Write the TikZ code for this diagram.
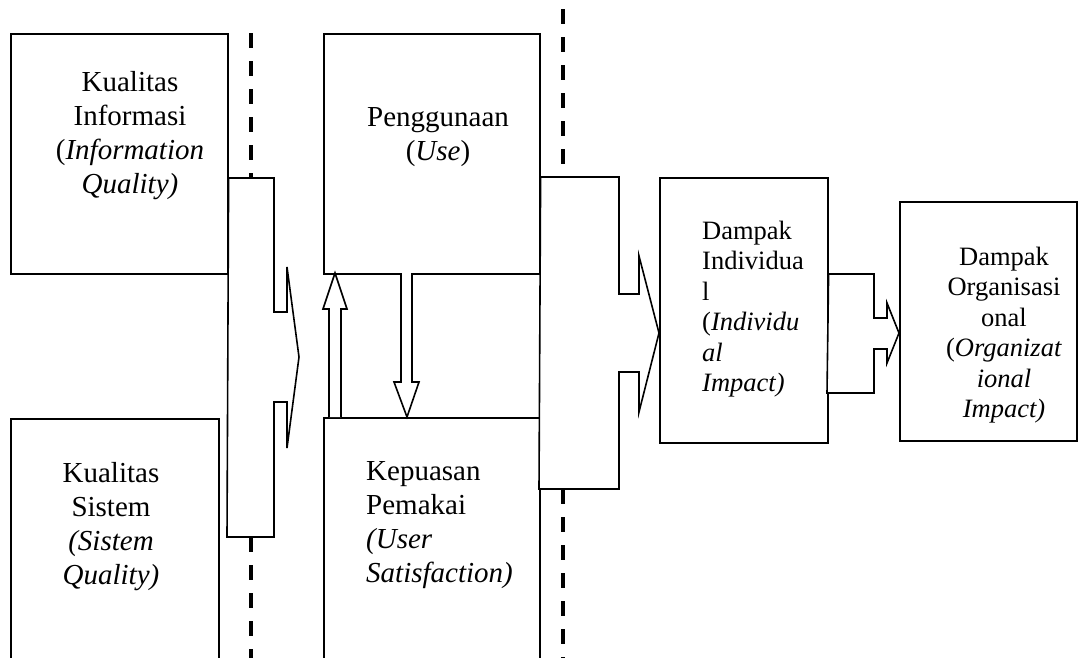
\documentclass[tikz,border=0pt]{standalone}
\usepackage{fontspec}
\setmainfont{Liberation Serif}
\tikzset{
  box/.style={draw, line width=1.6pt, anchor=north west, inner sep=0pt},
  blockarrow/.style={draw, line width=1.6pt, line join=miter, fill=white},
  hollow/.style={draw, line width=1.6pt, fill=white},
  divider/.style={line width=3.6pt, dash pattern=on 15pt off 13pt},
  bigtxt/.style={font=\fontsize{29}{34}\selectfont, inner sep=0pt},
  smalltxt/.style={font=\fontsize{26.5}{30.5}\selectfont, inner sep=0pt}
}
\begin{document}
\begin{tikzpicture}[x=1pt,y=-1pt]
\useasboundingbox (0,0) rectangle (1084,657);
\clip (0,0) rectangle (1084,657);
\fill[white] (0,0) rectangle (1084,657);
% dividers
\coordinate (d1a) at (251,33); \coordinate (d1b) at (251,177);
\coordinate (d1c) at (251,537); \coordinate (d1d) at (251,670);
\coordinate (d2a) at (563,9);  \coordinate (d2b) at (563,170);
\coordinate (d2c) at (563,489); \coordinate (d2d) at (563,670);
\draw[divider] (d1a) -- (d1b);
\draw[divider] (d1c) -- (d1d);
\draw[divider] (d2a) -- (d2b);
\draw[divider] (d2c) -- (d2d);
% boxes
\node[box, minimum width=217pt, minimum height=240pt] (ki) at (10,33) {};
\node[box, minimum width=208pt, minimum height=260pt] (ks) at (10,418) {};
\node[box, minimum width=216pt, minimum height=240pt] (use) at (323,33) {};
\node[box, minimum width=216pt, minimum height=260pt] (sat) at (323,417) {};
\node[box, minimum width=168pt, minimum height=265pt] (di) at (659,177) {};
\node[box, minimum width=177pt, minimum height=239pt] (do) at (899,201) {};
% block arrow 1
\draw[blockarrow] (ki.north east |- 0,178) -- (274,178) -- (274,312) -- (287,312) -- (287,267)
  -- (299,357) -- (287,448) -- (287,402) -- (274,402) -- (274,537) -- (227,537) -- cycle;
% block arrow 2
\draw[blockarrow] (use.north east |- 0,177) -- (619,177) -- (619,294) -- (639,294) -- (639,256)
  -- (di.west |- 0,333) -- (639,412) -- (639,372) -- (619,372) -- (619,489) -- (539,489) -- cycle;
% block arrow 3
\draw[blockarrow] (di.east |- 0,274) -- (874,274) -- (874,318) -- (887,318) -- (887,303)
  -- (do.west |- 0,333) -- (887,363) -- (887,349) -- (874,349) -- (874,393) -- (827,393) -- cycle;
% hollow up arrow (sat -> use)
\draw[hollow] (329,417) -- (329,309) -- (323,309) -- (335,273) -- (347,309) -- (341,309) -- (341,417);
% hollow down arrow (use -> sat)
\draw[hollow] (401,273) -- (401,382) -- (394,382) -- (407,417) -- (419,382) -- (412,382) -- (412,273);
% texts
\node[bigtxt, align=center] (tki) at (130,136) {Kualitas\\Informasi\\(\textit{Information}\\\textit{Quality)}};
\node[bigtxt, align=center] (tks) at (111,527) {Kualitas\\Sistem\\\textit{(Sistem}\\\textit{Quality)}};
\node[bigtxt, align=center] (tuse) at (438,137) {Penggunaan\\(\textit{Use})};
\node[bigtxt, align=left, anchor=west] (tsat) at (366,525) {Kepuasan\\Pemakai\\\textit{(User}\\\textit{Satisfaction)}};
\node[smalltxt, align=left, anchor=west] (tdi) at (702,309) {Dampak\\Individua\\l\\(\textit{Individu}\\\textit{al}\\\textit{Impact)}};
\node[smalltxt, align=center] (tdo) at (1004,335) {Dampak\\Organisasi\\onal\\(\textit{Organizat}\\\textit{ional}\\\textit{Impact)}};
\end{tikzpicture}
\end{document}
